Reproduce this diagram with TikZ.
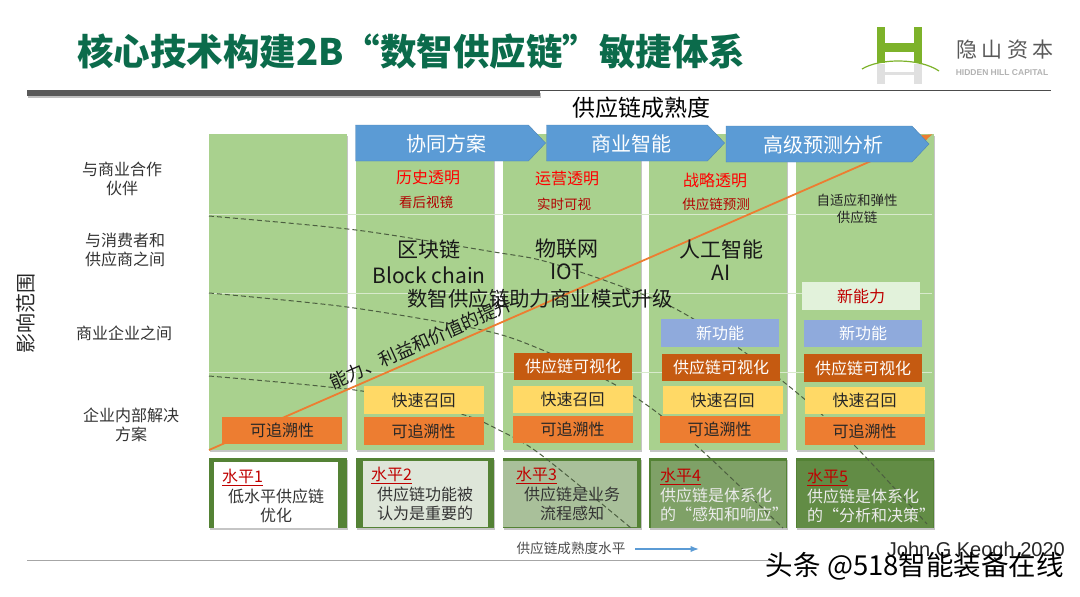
\documentclass[tikz,border=0pt]{standalone}
\usepackage{fontspec}
\usepackage{xcolor}
\usepackage{tikz}
\usetikzlibrary{arrows.meta,shadows,shapes.symbols}
\setmainfont{Noto Sans CJK SC}
\newfontfamily\logofont[LetterSpace=22]{Noto Sans CJK SC}
\newfontfamily\latinfont{Liberation Sans}
\definecolor{titlegreen}{HTML}{0B6B4B}
\definecolor{columngreen}{HTML}{A9D18E}
\definecolor{framegreen}{HTML}{548235}
\definecolor{chevronblue}{HTML}{5B9BD5}
\definecolor{traceorange}{HTML}{ED7D31}
\definecolor{recallyellow}{HTML}{FFD966}
\definecolor{visibrown}{HTML}{C55A11}
\definecolor{featureblue}{HTML}{8FAADC}
\definecolor{logogreen}{HTML}{7DB22A}
\newcommand{\fs}[1]{\fontsize{#1}{19}\selectfont}
\begin{document}
\begin{tikzpicture}[
    x=1pt,y=-1pt,
    >=Latex,
    column/.style={fill=columngreen,minimum width=138pt,minimum height=316pt,inner sep=0pt,
      drop shadow={shadow xshift=0.5pt,shadow yshift=-1.5pt,fill=black!45,opacity=0.5}},
    level/.style={fill=framegreen,minimum width=138pt,minimum height=70pt,inner sep=0pt,
      drop shadow={shadow xshift=0.5pt,shadow yshift=-1.5pt,fill=black!45,opacity=0.5}},
    levelin/.style={inner sep=0pt},
    chevron/.style={signal,signal to=east,signal pointer angle=93,draw=chevronblue!85!black,fill=chevronblue,
      minimum height=36pt,inner sep=0pt,text=white,font=\fs{20}},
    cell/.style={minimum width=120pt,minimum height=27.5pt,inner sep=0pt,font=\fs{16}},
    trace/.style={cell,fill=traceorange,text=black!85},
    recall/.style={cell,fill=recallyellow,text=black!85},
    visib/.style={cell,minimum width=118pt,fill=visibrown,text=white},
    feature/.style={cell,minimum width=118pt,fill=featureblue,text=white},
    rowlabel/.style={font=\fs{16},text=black!80,align=center,inner sep=0pt},
    tech/.style={font=\fs{21},text=black!90,inner sep=0pt},
    redhead/.style={font=\fs{16},text=red,inner sep=0pt},
    redsub/.style={font=\fs{13.5},text=red!70!black,inner sep=0pt},
    levelhead/.style={font=\fs{16},text=red!75!black,inner sep=0pt,anchor=west},
    leveltext/.style={font=\fs{16},text=black!80,inner sep=0pt},
    levelwhite/.style={font=\fs{16},text=white!92!black,inner sep=0pt,anchor=west},
    gridline/.style={white!55!columngreen,line width=0.8pt},
    dashline/.style={black!55!columngreen,line width=1pt,dash pattern=on 5pt off 3pt},
    trend/.style={->,traceorange,line width=1.8pt},
  ]
    \useasboundingbox (0,0) rectangle (1080,597);

    \node[anchor=west,inner sep=0pt,font=\fs{36.5}\bfseries,text=titlegreen] (title) at (77,52) {核心技术构建2B“数智供应链”敏捷体系};
    \fill[black!25] (28,93) rectangle (541,98);
    \fill[black!65] (27,90) rectangle (540,96);
    \fill[black!70] (540,89.5) rectangle (1051,91);
    \fill[black!35] (27,559.5) rectangle (770,561);

    \fill[logogreen] (877,27) rectangle (885,63);
    \fill[logogreen] (914,27) rectangle (922,63);
    \fill[logogreen] (885,43) rectangle (914,52);
    \fill[black!12] (877,64) rectangle (885,84);
    \fill[black!12] (914,64) rectangle (922,84);
    \fill[black!12] (885,72) rectangle (914,75);
    \draw[logogreen,line width=1.2pt] (862,69) .. controls (880,58) and (920,58) .. (939,71);
    \node[inner sep=0pt,font=\logofont\fs{21},text=black!65] (logotext) at (1005,50) {隐山资本};
    \node[inner sep=0pt,font=\latinfont\fs{8.5}\bfseries,text=black!30] (logosub) at (1002,73) {HIDDEN HILL CAPITAL};

    \node[font=\fs{23},inner sep=0pt] (maturity) at (641,108) {供应链成熟度};

    \node[column] (col1) at (278,292) {};
    \node[column] (col2) at (425,292) {};
    \node[column] (col3) at (572,292) {};
    \node[column] (col4) at (718,292) {};
    \node[column] (col5) at (865,292) {};
    \draw[gridline] (209,214) -- (932,214);
    \draw[gridline] (209,293) -- (932,293);
    \draw[gridline] (209,372) -- (932,372);

    \node[level] (level1) at (278,493) {};
    \node[level] (level2) at (425,493) {};
    \node[level] (level3) at (572,493) {};
    \node[level] (level4) at (718,493) {};
    \node[level] (level5) at (865,493) {};
    \node[levelin,fill=white,minimum width=124pt,minimum height=66pt] (inner1) at (276,495) {};
    \node[levelin,fill=black!12!framegreen!18!white,minimum width=125pt,minimum height=66pt] (inner2) at (425.5,494) {};
    \node[levelin,fill=framegreen!50!white,minimum width=134pt,minimum height=66pt] (inner3) at (570,494) {};
    \node[levelin,fill=framegreen!75!white,minimum width=135pt,minimum height=67pt] (inner4) at (718,494) {};
    \node[levelin,fill=framegreen!92!white,minimum width=136pt,minimum height=67pt] (inner5) at (865,494) {};

    \draw[dashline] plot[smooth] coordinates {(209,216) (356,230) (494,252) (540,260) (598,278) (672,307) (740,349) (802,397) (857,448) (927,524)};
    \draw[dashline] plot[smooth] coordinates {(209,293) (347,307) (482,330) (540,349) (612,383) (659,414) (710,458) (783,528)};
    \draw[dashline] plot[smooth] coordinates {(209,376) (362,391) (461,414) (499,430) (540,454) (631,528)};

    \coordinate (trendstart) at (209,450);
    \coordinate (trendend) at (933,134);
    \draw[trend] (trendstart) -- (trendend);

    \node[trace] (trace1) at (282,430.5) {可追溯性};
    \node[trace] (trace2) at (423.5,431) {可追溯性};
    \node[recall] (recall2) at (423.5,400) {快速召回};
    \node[trace] (trace3) at (572.5,429.5) {可追溯性};
    \node[recall] (recall3) at (572.5,399.5) {快速召回};
    \node[visib] (visib3) at (573,366.5) {供应链可视化};
    \node[trace] (trace4) at (719.5,429.5) {可追溯性};
    \node[recall] (recall4) at (722.5,400) {快速召回};
    \node[visib] (visib4) at (721,367.5) {供应链可视化};
    \node[feature] (feature4) at (720,333) {新功能};
    \node[trace] (trace5) at (864.5,431) {可追溯性};
    \node[recall] (recall5) at (864.5,400.5) {快速召回};
    \node[visib] (visib5) at (863,368) {供应链可视化};
    \node[feature] (feature5) at (863,333.5) {新功能};
    \node[feature,fill=green!6!columngreen!30!white,text=red!75!black] (ability5) at (861,296) {新能力};

    \node[redhead] (hist) at (428,178) {历史透明};
    \node[redsub] (histsub) at (426,202) {看后视镜};
    \node[redhead] (oper) at (567,178) {运营透明};
    \node[redsub] (opersub) at (564,204) {实时可视};
    \node[redhead] (stra) at (715,180) {战略透明};
    \node[redsub] (strasub) at (716,204) {供应链预测};
    \node[inner sep=0pt,font=\fs{13.5},text=black!85] (adapt) at (857,200) {自适应和弹性};
    \node[inner sep=0pt,font=\fs{13.5},text=black!85] (adaptsub) at (857,217) {供应链};

    \node[tech] (chain) at (429,250) {区块链};
    \node[tech] (chainen) at (429,275) {Block chain};
    \node[tech] (iot) at (567,249) {物联网};
    \node[tech] (ioten) at (567,272) {IOT};
    \node[tech] (ai) at (721,249) {人工智能};
    \node[tech] (aien) at (721,273) {AI};
    \node[font=\fs{20.4},text=black!90,inner sep=0pt] (upgrade) at (540,299) {数智供应链助力商业模式升级};
    \node[rotate=24,font=\fs{18},text=black!90,inner sep=0pt] (gain) at (421,343) {能力、利益和价值的提升};

    \node[chevron,minimum width=190pt] (plan) at (442,143) {};
    \node[chevron,minimum width=178pt] (bi) at (627,143) {};
    \node[chevron,minimum width=203pt] (predict) at (819,144) {};
    \node[font=\fs{20},text=white,inner sep=0pt] (plantext) at (446,144) {协同方案};
    \node[font=\fs{20},text=white,inner sep=0pt] (bitext) at (631,144) {商业智能};
    \node[font=\fs{20},text=white,inner sep=0pt] (predicttext) at (823,145) {高级预测分析};

    \node[rowlabel] (row1) at (122,179) {与商业合作\\伙伴};
    \node[rowlabel] (row2) at (125,250) {与消费者和\\供应商之间};
    \node[rowlabel] (row3) at (124,333) {商业企业之间};
    \node[rowlabel] (row4) at (131,425) {企业内部解决\\方案};
    \node[rotate=90,font=\fs{20},text=black!85,inner sep=0pt] (reach) at (26,313) {影响范围};

    \node[levelhead] (head1) at (222,477) {\underline{水平1}};
    \node[leveltext] (body1a) at (276,496) {低水平供应链};
    \node[leveltext] (body1b) at (276,515) {优化};
    \node[levelhead] (head2) at (371,475) {\underline{水平2}};
    \node[leveltext] (body2a) at (425,494) {供应链功能被};
    \node[leveltext] (body2b) at (425,513) {认为是重要的};
    \node[levelhead] (head3) at (516,475) {\underline{水平3}};
    \node[leveltext] (body3a) at (572,494) {供应链是业务};
    \node[leveltext] (body3b) at (572,513) {流程感知};
    \node[levelhead] (head4) at (660,476) {\underline{水平4}};
    \node[levelwhite] (body4a) at (660,495) {供应链是体系化};
    \node[levelwhite] (body4b) at (660,514) {的“感知和响应”};
    \node[levelhead] (head5) at (807,477) {\underline{水平5}};
    \node[levelwhite] (body5a) at (807,496) {供应链是体系化};
    \node[levelwhite] (body5b) at (807,515) {的“分析和决策”};

    \node[inner sep=0pt,font=\fs{13.6},text=black!70] (axis) at (571,548) {供应链成熟度水平};
    \coordinate (axisend) at (699,549);
    \draw[->,chevronblue,line width=1.2pt] (635,549) -- (axisend);

    \node[inner sep=0pt,anchor=east,font=\latinfont\fs{20},text=black!85] (credit) at (1065,551) {John G Keogh 2020};
    \node[inner sep=0pt,anchor=east,font=\fs{27.5}] (mark) at (1064,566) {头条 @518智能装备在线};
  \end{tikzpicture}
\end{document}
